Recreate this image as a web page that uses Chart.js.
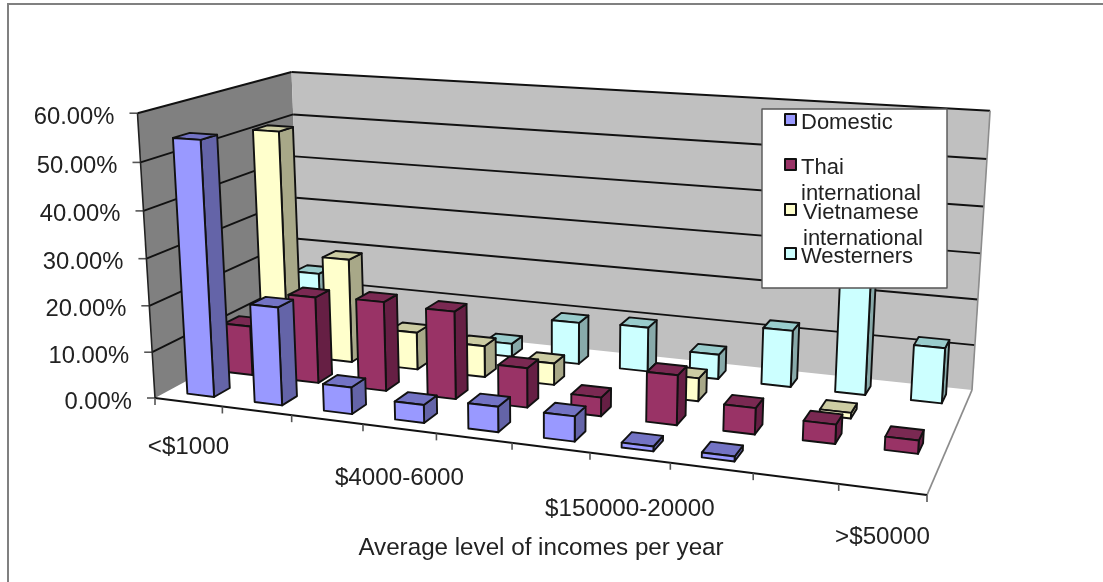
<!DOCTYPE html>
<html>
<head>
<meta charset="utf-8">
<title>Average level of incomes per year</title>
<script src="https://cdn.jsdelivr.net/npm/chart.js@4/dist/chart.umd.min.js"></script>
<style>
html, body { margin: 0; padding: 0; background: #fff; }
canvas { display: block; filter: blur(0.45px); }
</style>
</head>
<body>
<canvas id="incomes" width="1103" height="582"></canvas>
<script>
// only every third label is printed on the original axis
var categories = ["<$1000", "", "", "$4000-6000", "", "", "$150000-20000", "", "", ">$50000"];
var domestic = [54.5, 21, 5.7, 3.8, 5.3, 5.2, 1, 1, 0, 0];
var thai = [11, 19, 19.5, 19, 8.5, 4, 10.5, 5.5, 4, 2.7];
var vietnamese = [51, 23.5, 8.4, 7, 4.8, 0, 5, 0, 1.2, 0];
var westerners = [15, 8, 4, 3, 9.5, 10, 5.5, 12.5, 28, 12];
var yTicks = ["0.00%", "10.00%", "20.00%", "30.00%", "40.00%", "50.00%", "60.00%"];
var xTitle = "Average level of incomes per year";

var FONT = '"Liberation Sans", Arial, sans-serif';
var TEXT = '#222';

// corners of the floor, and of the 60% plane on the two walls, in canvas pixels
var floorQuad = [[155, 398], [927, 495], [972, 390], [301, 319]];
var wallTops = [[0, 0, 137, 114], [1, 1, 990, 110], [0, 1, 292, 72]];

// solve a small linear system by elimination
function solve(m, r) {
    var n = r.length;
    for (var i = 0; i < n; i++) {
        var piv = i;
        for (var j = i + 1; j < n; j++) if (Math.abs(m[j][i]) > Math.abs(m[piv][i])) piv = j;
        var tm = m[i]; m[i] = m[piv]; m[piv] = tm;
        var tr = r[i]; r[i] = r[piv]; r[piv] = tr;
        for (var j2 = i + 1; j2 < n; j2++) {
            var f = m[j2][i] / m[i][i];
            for (var c = i; c < n; c++) m[j2][c] -= f * m[i][c];
            r[j2] -= f * r[i];
        }
    }
    var out = [];
    for (var i2 = n - 1; i2 >= 0; i2--) {
        var s = r[i2];
        for (var c2 = i2 + 1; c2 < n; c2++) s -= m[i2][c2] * out[c2];
        out[i2] = s / m[i2][i2];
    }
    return out;
}

// projective camera: (u, v, t) -> pixel, fitted to the corners above
function makeCamera(q, tops) {
    var dx1 = q[1][0] - q[2][0], dx2 = q[3][0] - q[2][0], sx = q[0][0] - q[1][0] + q[2][0] - q[3][0];
    var dy1 = q[1][1] - q[2][1], dy2 = q[3][1] - q[2][1], sy = q[0][1] - q[1][1] + q[2][1] - q[3][1];
    var d = dx1 * dy2 - dx2 * dy1;
    var g = (sx * dy2 - dx2 * sy) / d, h = (dx1 * sy - sx * dy1) / d;
    var a = q[1][0] - q[0][0] + g * q[1][0], b = q[3][0] - q[0][0] + h * q[3][0];
    var e = q[1][1] - q[0][1] + g * q[1][1], f = q[3][1] - q[0][1] + h * q[3][1];
    var A = [], R = [];
    tops.forEach(function (p) {
        var w = g * p[0] + h * p[1] + 1;
        var x0 = a * p[0] + b * p[1] + q[0][0], y0 = e * p[0] + f * p[1] + q[0][1];
        A.push([1, 0, -p[2]]); R.push(w * p[2] - x0);
        A.push([0, 1, -p[3]]); R.push(w * p[3] - y0);
    });
    // least squares for the three height terms
    var N = [[0, 0, 0], [0, 0, 0], [0, 0, 0]], B = [0, 0, 0];
    A.forEach(function (row, k) {
        for (var i = 0; i < 3; i++) {
            B[i] += row[i] * R[k];
            for (var j = 0; j < 3; j++) N[i][j] += row[i] * row[j];
        }
    });
    var s = solve(N, B);
    return function (u, v, t) {
        var w = g * u + h * v + s[2] * t + 1;
        return [(a * u + b * v + s[0] * t + q[0][0]) / w, (e * u + f * v + s[1] * t + q[0][1]) / w];
    };
}
var project = makeCamera(floorQuad, wallTops);

function poly(ctx, pts, fill, stroke, lw) {
    ctx.beginPath();
    pts.forEach(function (p, i) { i ? ctx.lineTo(p[0], p[1]) : ctx.moveTo(p[0], p[1]); });
    ctx.closePath();
    if (fill) { ctx.fillStyle = fill; ctx.fill(); }
    if (stroke) { ctx.strokeStyle = stroke; ctx.lineWidth = lw || 1; ctx.lineJoin = 'round'; ctx.stroke(); }
}

function line(ctx, a, b, color, lw) {
    ctx.beginPath();
    ctx.moveTo(a[0], a[1]);
    ctx.lineTo(b[0], b[1]);
    ctx.strokeStyle = color;
    ctx.lineWidth = lw;
    ctx.stroke();
}

function drawWalls(chart) {
    var ctx = chart.ctx, y = chart.scales.y;
    // outer frame
    line(ctx, [8, 582], [8, 4], '#808080', 2);
    line(ctx, [7, 4], [1103, 4], '#808080', 2);

    poly(ctx, [project(0, 0, 0), project(1, 0, 0), project(1, 1, 0), project(0, 1, 0)], '#fff');
    poly(ctx, [project(0, 0, 0), project(0, 1, 0), project(0, 1, 1), project(0, 0, 1)], '#808080');
    poly(ctx, [project(0, 1, 0), project(1, 1, 0), project(1, 1, 1), project(0, 1, 1)], '#c0c0c0');

    y.ticks.forEach(function (tick) {
        var t = (y.bottom - y.getPixelForValue(tick.value)) / y.height;
        var a = project(0, 0, t), b = project(0, 1, t), c = project(1, 1, t);
        if (t > 0) {
            line(ctx, a, b, '#111', 1.9);
            line(ctx, b, c, '#111', 1.9);
        }
        line(ctx, [a[0] - 8, a[1]], a, '#555', 1.6);
        ctx.fillStyle = TEXT;
        ctx.font = '23.8px ' + FONT;
        ctx.textAlign = 'right';
        ctx.textBaseline = 'middle';
        ctx.fillText(tick.label, a[0] - 23, a[1] + 4);
    });

    line(ctx, project(0, 0, 0), project(0, 0, 1), '#222', 1.6);
    line(ctx, project(1, 1, 0), project(1, 1, 1), '#8c8c8c', 1.6);
    line(ctx, project(1, 0, 0), project(1, 1, 0), '#8c8c8c', 1.8);
    line(ctx, project(0, 0, 0), project(1, 0, 0), '#111', 1.9);
}

function drawCategoryAxis(chart) {
    var ctx = chart.ctx, x = chart.scales.x;
    var n = categories.length;
    var drop = { 0: 45, 3: 50, 6: 52, 9: 48 };
    for (var i = 0; i <= n; i++) {
        var p = project(i / n, 0, 0);
        line(ctx, p, [p[0], p[1] + 7], '#555', 1.6);
    }
    ctx.fillStyle = TEXT;
    ctx.font = '24.2px ' + FONT;
    ctx.textAlign = 'center';
    ctx.textBaseline = 'middle';
    categories.forEach(function (label, i) {
        if (!label) return;
        var u = (x.getPixelForValue(i) - x.left) / x.width;
        var p = project(u, 0, 0);
        ctx.fillText(label, p[0], p[1] + drop[i]);
    });
    ctx.fillText(xTitle, 541, 548);
}

function drawBars(chart) {
    var ctx = chart.ctx, x = chart.scales.x, y = chart.scales.y;
    var n = categories.length, rows = chart.data.datasets.length;
    var halfW = 0.2, halfD = 0.2;
    for (var k = rows - 1; k >= 0; k--) {
        var ds = chart.data.datasets[k];
        ds.data.forEach(function (value, i) {
            if (!value) return;
            var uc = (x.getPixelForValue(i) - x.left) / x.width;
            var t = (y.bottom - y.getPixelForValue(value)) / y.height;
            var u0 = uc - halfW / n, u1 = uc + halfW / n;
            var v0 = (k + 0.5 - halfD) / rows, v1 = (k + 0.5 + halfD) / rows;
            poly(ctx, [project(u1, v0, 0), project(u1, v1, 0), project(u1, v1, t), project(u1, v0, t)], ds.sideColor, '#111', 1.9);
            poly(ctx, [project(u0, v0, t), project(u1, v0, t), project(u1, v1, t), project(u0, v1, t)], ds.topColor, '#111', 1.9);
            poly(ctx, [project(u0, v0, 0), project(u1, v0, 0), project(u1, v0, t), project(u0, v0, t)], ds.backgroundColor, '#111', 1.9);
        });
    }
}

function drawLegend(chart) {
    var ctx = chart.ctx;
    ctx.fillStyle = '#fff';
    ctx.fillRect(762, 109, 185, 179);
    ctx.strokeStyle = '#555';
    ctx.lineWidth = 1.4;
    ctx.strokeRect(762, 109, 185, 179);
    var rows = [
        { box: 114, lines: [[801, 129]] },
        { box: 159, lines: [[801, 174], [801, 200]] },
        { box: 204, lines: [[803, 219], [803, 245]] },
        { box: 248, lines: [[801, 263]] }
    ];
    ctx.font = '22px ' + FONT;
    ctx.textAlign = 'left';
    ctx.textBaseline = 'alphabetic';
    chart.data.datasets.forEach(function (ds, k) {
        ctx.fillStyle = ds.backgroundColor;
        ctx.fillRect(785, rows[k].box, 11, 11);
        ctx.strokeStyle = '#111';
        ctx.lineWidth = 2;
        ctx.strokeRect(785, rows[k].box, 11, 11);
        ctx.fillStyle = TEXT;
        ds.label.split('\n').forEach(function (text, j) {
            ctx.fillText(text, rows[k].lines[j][0], rows[k].lines[j][1]);
        });
    });
}

var perspectiveBars = {
    id: 'perspectiveBars',
    beforeDatasetsDraw: function (chart) { drawWalls(chart); drawCategoryAxis(chart); },
    beforeDatasetDraw: function () { return false; },
    afterDatasetsDraw: function (chart) { drawBars(chart); drawLegend(chart); }
};

new Chart(document.getElementById('incomes').getContext('2d'), {
    type: 'bar',
    data: {
        labels: categories,
        datasets: [
            { label: 'Domestic', data: domestic, backgroundColor: '#9999ff', sideColor: '#6464a8', topColor: '#7373c4' },
            { label: 'Thai\ninternational', data: thai, backgroundColor: '#993366', sideColor: '#661f44', topColor: '#7a2952' },
            { label: 'Vietnamese\ninternational', data: vietnamese, backgroundColor: '#ffffcc', sideColor: '#a8a888', topColor: '#cccca3' },
            { label: 'Westerners', data: westerners, backgroundColor: '#ccffff', sideColor: '#88aaaa', topColor: '#99cccc' }
        ]
    },
    options: {
        responsive: false,
        animation: false,
        plugins: { legend: { display: false }, tooltip: { enabled: false } },
        scales: {
            x: { display: false },
            y: {
                display: false,
                min: 0,
                max: 60,
                ticks: {
                    stepSize: 10,
                    callback: function (value) { return yTicks[value / 10]; }
                }
            }
        }
    },
    plugins: [perspectiveBars]
});
</script>
</body>
</html>
